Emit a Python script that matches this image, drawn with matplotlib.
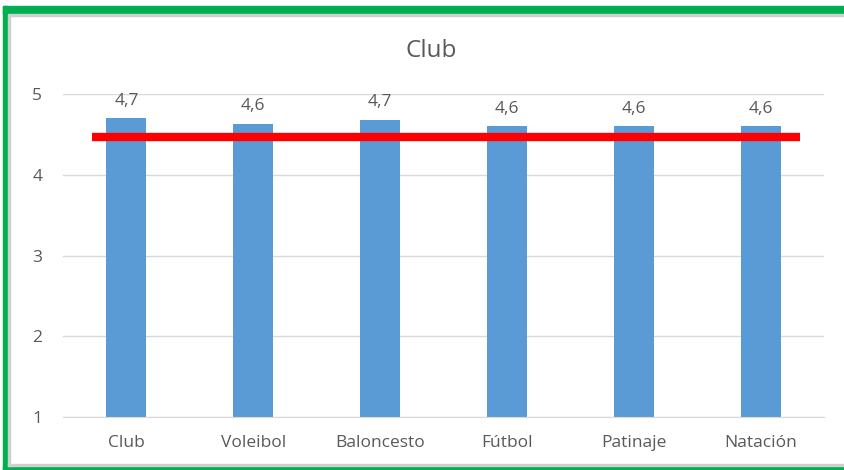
import matplotlib.pyplot as plt
from matplotlib.patches import Rectangle

plt.rcParams['font.family'] = ['Open Sans', 'DejaVu Sans']

categories = ['Club', 'Voleibol', 'Baloncesto', 'Fútbol', 'Patinaje', 'Natación']
values = [4.70, 4.63, 4.68, 4.60, 4.60, 4.60]
labels = ['4,7', '4,6', '4,7', '4,6', '4,6', '4,6']
mean_line = 4.465
mean_x = [-0.27, 5.31]

W, H = 844, 470
fig = plt.figure(figsize=(W / 100, H / 100), dpi=100)

# green frame (left, top, bottom) with thin gray inner edge
fig.patches.append(Rectangle((3 / W, 1 - 14 / H), 1, 8 / H, transform=fig.transFigure,
                             color='#00B050', zorder=0))
fig.patches.append(Rectangle((3 / W, 0), 5 / W, 1 - 6 / H, transform=fig.transFigure,
                             color='#00B050', zorder=0))
fig.patches.append(Rectangle((3 / W, 0), 1, 4 / H, transform=fig.transFigure,
                             color='#00B050', zorder=0))
fig.patches.append(Rectangle((8 / W, 1 - 16 / H), 1, 2 / H, transform=fig.transFigure,
                             color='#D0D0D0', zorder=0))
fig.patches.append(Rectangle((8 / W, 4 / H), 2 / W, 1 - 20 / H, transform=fig.transFigure,
                             color='#D0D0D0', zorder=0))
fig.patches.append(Rectangle((8 / W, 4 / H), 1, 2 / H, transform=fig.transFigure,
                             color='#D0D0D0', zorder=0))

ax = fig.add_axes([63 / W, 1 - 417 / H, 761 / W, 323 / H])
x = range(len(categories))
ax.bar(x, values, width=0.315, color='#5B9BD5', zorder=2)
for i, (v, t) in enumerate(zip(values, labels)):
    ax.text(i, v + 0.12, t, ha='center', va='bottom', fontsize=12.5, color='#595959')

ax.plot(mean_x, [mean_line, mean_line], color='#FF0000', linewidth=6, zorder=3,
        solid_capstyle='butt')

ax.set_xlim(-0.5, 5.5)
ax.set_ylim(1, 5)
ax.set_yticks([1, 2, 3, 4, 5])
ax.set_xticks(list(x))
ax.set_xticklabels(categories)
ax.grid(axis='y', color='#D9D9D9', linewidth=1, zorder=0)
ax.set_axisbelow(True)
for s in ['top', 'right', 'left']:
    ax.spines[s].set_visible(False)
ax.spines['bottom'].set_color('#D9D9D9')
ax.tick_params(axis='both', length=0, labelsize=12.5, colors='#595959')
ax.tick_params(axis='y', pad=15)
ax.tick_params(axis='x', pad=13)

fig.text(431 / W, 1 - 51 / H, 'Club', ha='center', va='center', fontsize=17.5, color='#595959')

fig.savefig('out.png', dpi=100)
